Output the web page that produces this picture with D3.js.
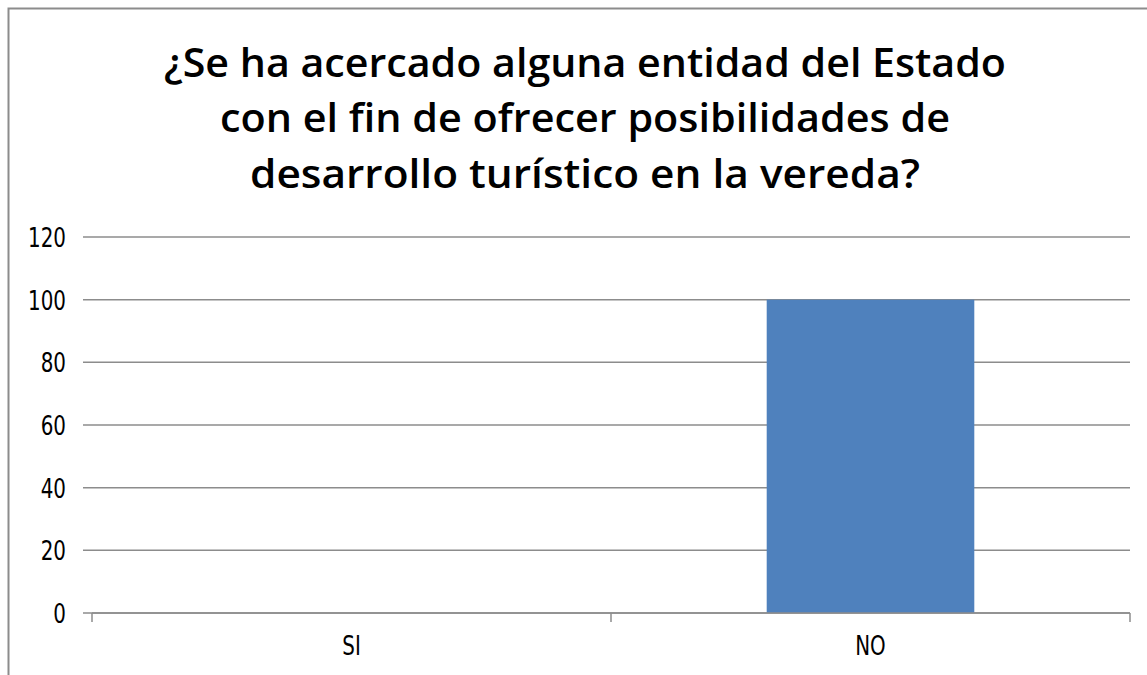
<!DOCTYPE html>
<html>
<head>
<meta charset="utf-8">
<script src="https://cdn.jsdelivr.net/npm/d3@7"></script>
<style>
  body { margin: 0; background: #fff; }
  text { font-family: "DejaVu Sans Condensed", "Open Sans", sans-serif; }
</style>
</head>
<body>
<div id="chart"></div>
<script>
var categories = ['SI', 'NO'];
var values = [0, 100];
var yTicks = [0, 20, 40, 60, 80, 100, 120];
var titleLines = [
  '¿Se ha acercado alguna entidad del Estado',
  'con el fin de ofrecer posibilidades de',
  'desarrollo turístico en la vereda?'
];

var width = 1147,
  height = 675;

var barColor = '#4f81bd',
  gridColor = '#8c8c8c';

var svg = d3.select('#chart').append('svg').attr('width', width).attr('height', height);

// chart border, runs off the right and bottom edges
svg.append('rect')
  .attr('x', 8.5).attr('y', 8.5)
  .attr('width', 1160).attr('height', 700)
  .attr('fill', '#fff')
  .attr('stroke', gridColor)
  .attr('stroke-width', 2);

// squeeze a label sideways like the stretched original
function narrow(sel, k) {
  sel.each(function() {
    var w = this.getComputedTextLength();
    d3.select(this).attr('textLength', w * k).attr('lengthAdjust', 'spacingAndGlyphs');
  });
}

// title
var titleY = [77, 132, 188],
  titleW = [842, 730, 670];
svg.append('g').selectAll('text')
  .data(titleLines)
  .enter().append('text')
  .attr('x', 585)
  .attr('y', function(d, i) { return titleY[i]; })
  .attr('text-anchor', 'middle')
  .attr('textLength', function(d, i) { return titleW[i]; })
  .attr('lengthAdjust', 'spacingAndGlyphs')
  .style('font-family', '"Open Sans", "DejaVu Sans", sans-serif')
  .style('font-weight', 600)
  .style('font-size', '39px')
  .text(function(d) { return d; });

var x = d3.scaleBand().domain(categories).range([92, 1130]).paddingInner(0).paddingOuter(0);
var y = d3.scaleLinear().domain([0, 120]).range([613, 237]);

// gridlines
svg.append('g').selectAll('line')
  .data(yTicks)
  .enter().append('line')
  .attr('x1', 83).attr('x2', 1130)
  .attr('y1', function(d) { return y(d); })
  .attr('y2', function(d) { return y(d); })
  .attr('stroke', gridColor)
  .attr('stroke-width', 1.5);

// y labels
svg.append('g').selectAll('text')
  .data(yTicks)
  .enter().append('text')
  .attr('x', 66)
  .attr('y', function(d) { return y(d) + 10; })
  .attr('text-anchor', 'end')
  .style('font-size', '26px')
  .style('fill', '#000')
  .text(function(d) { return d; })
  .call(narrow, 0.85);

// bars
var barW = x.bandwidth() * 0.4;
svg.append('g').selectAll('rect')
  .data(values)
  .enter().append('rect')
  .attr('x', function(d, i) { return x(categories[i]) + (x.bandwidth() - barW) / 2; })
  .attr('y', function(d) { return y(d); })
  .attr('width', barW)
  .attr('height', function(d) { return y(0) - y(d); })
  .attr('fill', barColor);

// x axis
var xAxis = d3.axisBottom(x).tickSize(0).tickPadding(24);
var gx = svg.append('g').attr('transform', 'translate(0,' + y(0) + ')').call(xAxis);
gx.select('.domain').remove();
gx.selectAll('text').style('font-size', '26px').style('fill', '#000')
  .style('font-family', '"DejaVu Sans Condensed", "Open Sans", sans-serif')
  .call(narrow, 0.85);

svg.append('line')
  .attr('x1', 92).attr('x2', 1130)
  .attr('y1', y(0)).attr('y2', y(0))
  .attr('stroke', gridColor).attr('stroke-width', 1.5);

var edges = [92].concat(categories.map(function(c) { return x(c) + x.bandwidth(); }));
svg.append('g').selectAll('line')
  .data(edges)
  .enter().append('line')
  .attr('x1', function(d) { return d; })
  .attr('x2', function(d) { return d; })
  .attr('y1', y(0)).attr('y2', y(0) + 9)
  .attr('stroke', gridColor).attr('stroke-width', 1.5);
</script>
</body>
</html>
